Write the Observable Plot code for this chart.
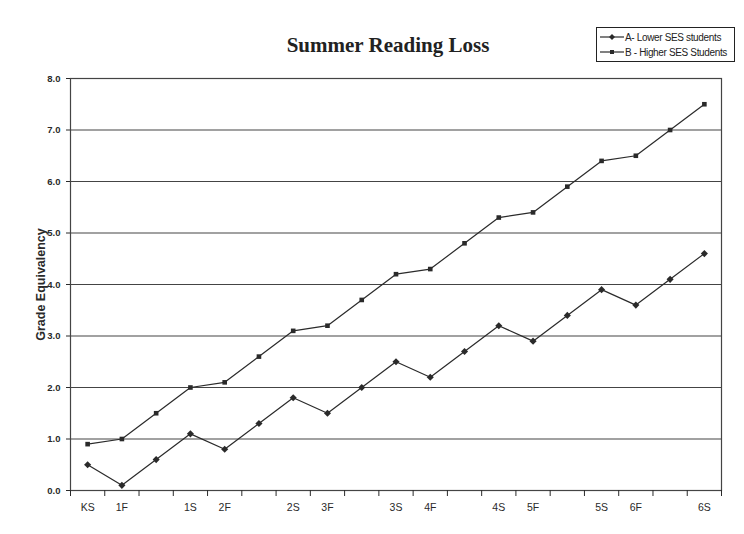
<!DOCTYPE html>
<html>
<head>
<meta charset="utf-8">
<script src="https://cdn.jsdelivr.net/npm/d3@7"></script>
<script src="https://cdn.jsdelivr.net/npm/@observablehq/plot@0.6"></script>
<style>
  html, body { margin: 0; padding: 0; background: #fff; }
  #wrap { position: relative; width: 744px; height: 534px; overflow: hidden; }
  #title { position: absolute; left: 0; width: 776px; top: 33px; text-align: center;
    font-family: "Liberation Serif", "Times New Roman", serif; font-weight: bold; font-size: 21px; color: #222; }
  #legend { position: absolute; left: 596px; top: 27px; width: 139px; height: 35px; border: 1px solid #222;
    font-family: "Liberation Sans", sans-serif; font-size: 10px; letter-spacing: -0.35px; color: #222; box-sizing: border-box; }
  .row { position: absolute; left: 3px; height: 14px; display: flex; align-items: center; white-space: nowrap; }
  .row svg { margin-right: 1px; }
</style>
</head>
<body>
<div id="wrap">
  <div id="title">Summer Reading Loss</div>
  <div id="legend"></div>
</div>
<script>
// Measurement periods (blank = mid-year point without label)
const periods = ["KS","1F","","1S","2F","","2S","3F","","3S","4F","","4S","5F","","5S","6F","","6S"];
// Series A - Lower SES students
const lowerSES = [0.5, 0.1, 0.6, 1.1, 0.8, 1.3, 1.8, 1.5, 2.0, 2.5, 2.2, 2.7, 3.2, 2.9, 3.4, 3.9, 3.6, 4.1, 4.6];
// Series B - Higher SES students
const higherSES = [0.9, 1.0, 1.5, 2.0, 2.1, 2.6, 3.1, 3.2, 3.7, 4.2, 4.3, 4.8, 5.3, 5.4, 5.9, 6.4, 6.5, 7.0, 7.5];
const seriesNames = ["A- Lower SES students", "B - Higher SES Students"];
const yTicks = [0, 1, 2, 3, 4, 5, 6, 7, 8];

const idx = periods.map((_, i) => i);
const rowsA = idx.map(i => ({i, v: lowerSES[i]}));
const rowsB = idx.map(i => ({i, v: higherSES[i]}));
const labelIdx = idx.filter(i => periods[i] !== "");
const boundaries = d3.range(periods.length + 1).map(b => b - 0.5);

const ink = "#2a2a2a";

const chart = Plot.plot({
  width: 744,
  height: 534,
  marginLeft: 70,
  marginRight: 23,
  marginTop: 78,
  marginBottom: 44,
  style: {fontFamily: "'Liberation Sans', sans-serif", fontSize: "10px", background: "transparent", color: ink},
  x: {type: "linear", domain: [-0.5, periods.length - 0.5], axis: null},
  y: {domain: [0, 8], axis: null},
  marks: [
    Plot.gridY(yTicks, {stroke: "#444", strokeOpacity: 1, strokeWidth: 1.2}),
    Plot.frame({stroke: "#444", strokeWidth: 1.2}),
    Plot.axisY(yTicks, {tickFormat: d3.format(".1f"), tickSize: 4, tickPadding: 6, label: null, fontWeight: "bold", fontSize: 9.5, letterSpacing: -0.4}),
    Plot.axisX(boundaries, {tickFormat: () => "", tickSize: 6, label: null}),
    Plot.axisX(labelIdx, {tickFormat: i => periods[i], tickSize: 0, tickPadding: 13, label: null, fontSize: 10.5}),
    Plot.text(["Grade Equivalency"], {frameAnchor: "left", textAnchor: "middle", dx: -30, rotate: -90, fontWeight: "bold", fontSize: 12.5, fill: ink,
      fontFamily: "'Liberation Sans', sans-serif", letterSpacing: 1}),
    Plot.line(rowsB, {x: "i", y: "v", stroke: ink, strokeWidth: 1.2}),
    Plot.dot(rowsB, {x: "i", y: "v", symbol: "square", r: 2.6, fill: ink, stroke: "none"}),
    Plot.line(rowsA, {x: "i", y: "v", stroke: ink, strokeWidth: 1.2}),
    Plot.dot(rowsA, {x: "i", y: "v", symbol: "diamond2", r: 3.2, fill: ink, stroke: "none"})
  ]
});
document.getElementById("wrap").prepend(chart);
chart.style.position = "absolute";
chart.style.left = "0";
chart.style.top = "0";

// legend
const legend = document.getElementById("legend");
const symbols = ["diamond", "square"];
seriesNames.forEach((name, k) => {
  const row = document.createElement("div");
  row.className = "row";
  row.style.top = (k === 0 ? 2 : 17) + "px";
  const shape = symbols[k] === "diamond"
    ? '<path d="M12,4 L15,7 L12,10 L9,7 Z" fill="' + ink + '"/>'
    : '<rect x="10" y="5" width="4" height="4" fill="' + ink + '"/>';
  row.innerHTML = '<svg width="24" height="14"><line x1="0" y1="7" x2="24" y2="7" stroke="' + ink + '" stroke-width="1.2"/>' + shape + '</svg><span>' + name + '</span>';
  legend.appendChild(row);
});
</script>
</body>
</html>
